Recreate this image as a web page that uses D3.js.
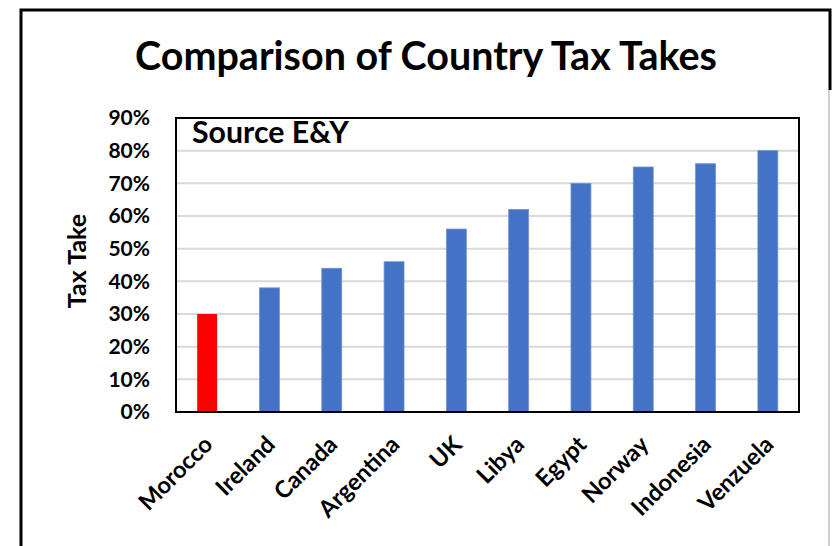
<!DOCTYPE html>
<html>
<head>
<meta charset="utf-8">
<script src="https://cdn.jsdelivr.net/npm/d3@7"></script>
<style>
  html, body { margin: 0; padding: 0; background: #fff; }
  svg { display: block; font-family: Lato, "Open Sans", sans-serif; font-weight: bold; }
</style>
</head>
<body>
<svg width="832" height="546"></svg>
<script>
// **** data ****
var countries = ['Morocco', 'Ireland', 'Canada', 'Argentina', 'UK', 'Libya', 'Egypt', 'Norway', 'Indonesia', 'Venzuela'];
var taxTake = [0.30, 0.38, 0.44, 0.46, 0.56, 0.62, 0.70, 0.75, 0.76, 0.80];
var yTicks = [0, 0.1, 0.2, 0.3, 0.4, 0.5, 0.6, 0.7, 0.8, 0.9];
var highlight = 'Morocco';

var svg = d3.select('svg');

// plot box
var plotLeft = 176, plotRight = 799, plotTop = 118, plotBottom = 412;

var xScale = d3.scaleBand()
    .domain(countries)
    .range([plotLeft, plotRight])
    .paddingInner(0.68)
    .paddingOuter(0.34);

var yScale = d3.scaleLinear()
    .domain([0, 0.9])
    .range([plotBottom, plotTop]);

// outer frame
svg.append('path')
    .attr('d', 'M21,560 V10 H830 V90')
    .attr('fill', 'none')
    .attr('stroke', '#000')
    .attr('stroke-width', 3);
svg.append('line')
    .attr('x1', 829).attr('x2', 829)
    .attr('y1', 90).attr('y2', 546)
    .attr('stroke', '#d0d0d0')
    .attr('stroke-width', 2);

// fit a text element to a target width by changing its font size
function fitText(sel, width) {
    var w = sel.node().getComputedTextLength();
    var fs = parseFloat(sel.attr('font-size'));
    sel.attr('font-size', fs * width / w);
}

var title = svg.append('text')
    .attr('x', 426)
    .attr('y', 70)
    .attr('text-anchor', 'middle')
    .attr('font-size', 32)
    .text('Comparison of Country Tax Takes');
fitText(title, 582);

// gridlines
svg.append('g')
    .selectAll('line')
    .data(yTicks.filter(function (d) { return d > 0 && d < 0.9; }))
    .enter()
    .append('line')
    .attr('x1', plotLeft)
    .attr('x2', plotRight)
    .attr('y1', function (d) { return yScale(d); })
    .attr('y2', function (d) { return yScale(d); })
    .attr('stroke', '#d9d9d9')
    .attr('stroke-width', 2);

// y axis
var yAxis = svg.append('g')
    .attr('transform', 'translate(' + (plotLeft - 26) + ',0)')
    .call(d3.axisLeft(yScale).tickValues(yTicks).tickFormat(d3.format('.0%')).tickSize(0).tickPadding(0));
yAxis.select('.domain').remove();
yAxis.selectAll('text')
    .attr('font-family', 'Lato, sans-serif')
    .attr('font-weight', 'bold')
    .attr('font-size', 21)
    .attr('fill', '#000');

svg.append('text')
    .attr('transform', 'translate(86,261) rotate(-90)')
    .attr('text-anchor', 'middle')
    .attr('font-size', 25)
    .text('Tax Take');

// bars
svg.append('g')
    .selectAll('rect')
    .data(countries)
    .enter()
    .append('rect')
    .attr('x', function (d) { return xScale(d); })
    .attr('width', xScale.bandwidth())
    .attr('y', function (d, i) { return yScale(taxTake[i]); })
    .attr('height', function (d, i) { return yScale(0) - yScale(taxTake[i]); })
    .attr('fill', function (d) { return d === highlight ? '#ff0000' : '#4472c4'; })
    .attr('stroke', function (d) { return d === highlight ? 'none' : '#6f93d3'; })
    .attr('stroke-width', 0.8);

// x labels
var xAxis = svg.append('g')
    .attr('transform', 'translate(0,' + plotBottom + ')')
    .call(d3.axisBottom(xScale).tickSize(0).tickPadding(0));
xAxis.select('.domain').remove();
xAxis.selectAll('text')
    .attr('font-family', 'Lato, sans-serif')
    .attr('font-weight', 'bold')
    .attr('font-size', 23.5)
    .attr('fill', '#000')
    .attr('text-anchor', 'end')
    .attr('dy', null)
    .attr('y', 0)
    .attr('transform', 'translate(7,34) rotate(-45)');

// plot border
svg.append('rect')
    .attr('x', plotLeft)
    .attr('y', plotTop)
    .attr('width', plotRight - plotLeft)
    .attr('height', plotBottom - plotTop)
    .attr('fill', 'none')
    .attr('stroke', '#000')
    .attr('stroke-width', 2);

var source = svg.append('text')
    .attr('x', 192)
    .attr('y', 143)
    .attr('font-size', 22)
    .text('Source E&Y');
fitText(source, 157);
</script>
</body>
</html>
